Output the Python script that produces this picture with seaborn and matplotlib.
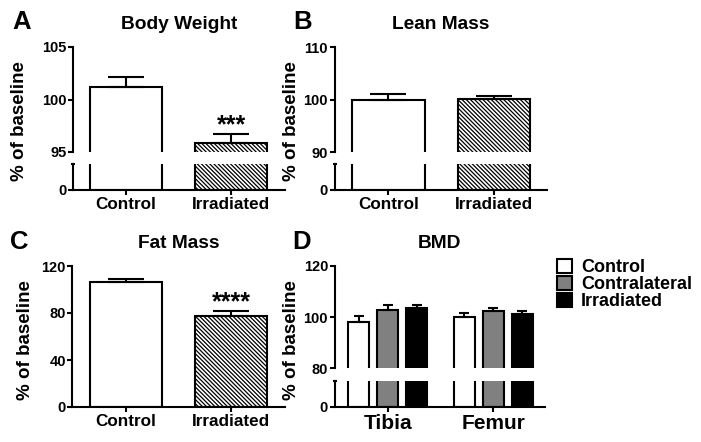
import matplotlib
matplotlib.use("Agg")
import matplotlib.pyplot as plt
import seaborn as sns
import pandas as pd
from matplotlib.patches import Patch

# data (% of baseline, mean and SEM)
groups = ["Control", "Irradiated"]
body_weight = [101.15, 95.9]
body_weight_sem = [0.95, 0.8]
lean_mass = [99.87, 100.13]
lean_mass_sem = [1.1, 0.5]
fat_mass = [106.0, 77.8]
fat_mass_sem = [3.2, 4.2]

bones = ["Tibia", "Femur"]
bmd_groups = ["Control", "Contralateral", "Irradiated"]
bmd_tibia = [98.05, 102.7, 103.5]
bmd_tibia_sem = [2.35, 2.0, 1.2]
bmd_femur = [100.15, 102.3, 101.3]
bmd_femur_sem = [1.45, 1.2, 1.0]

bmd_colors = {"Control": "white", "Contralateral": "#808080", "Irradiated": "black"}
HATCH = "\\" * 8  # dense diagonal stripes
LW = 1.5
W, H = 701, 442

sns.set_style("ticks")
plt.rcParams["font.family"] = ["Liberation Sans", "DejaVu Sans"]
plt.rcParams["font.weight"] = "bold"
plt.rcParams["axes.titleweight"] = "bold"
plt.rcParams["axes.linewidth"] = LW
plt.rcParams["hatch.linewidth"] = 0.9
# plain black everywhere (seaborn defaults to dark grey)
for key in ["text.color", "axes.labelcolor", "axes.edgecolor", "xtick.color", "ytick.color"]:
    plt.rcParams[key] = "black"

fig = plt.figure(figsize=(W / 100, H / 100), dpi=100)


def px(x0, x1, ytop, ybot):
    # pixel box -> figure fraction
    return [x0 / W, 1 - ybot / H, (x1 - x0) / W, (ybot - ytop) / H]


def draw_two(ax, values):
    df = pd.DataFrame({"group": groups, "value": values})
    sns.barplot(data=df, x="group", y="value", hue="group",
                palette={"Control": "white", "Irradiated": "white"},
                width=0.686, edgecolor="black", linewidth=LW, saturation=1,
                legend=False, ax=ax)
    ax.patches[1].set_hatch(HATCH)


def draw_bmd(ax):
    df = pd.DataFrame({
        "bone": [b for b in bones for _ in bmd_groups],
        "group": bmd_groups * len(bones),
        "value": bmd_tibia + bmd_femur,
    })
    sns.barplot(data=df, x="bone", y="value", hue="group", hue_order=bmd_groups,
                palette=bmd_colors, width=0.82, gap=0.27, edgecolor="black",
                linewidth=LW, saturation=1, legend=False, ax=ax)


def add_err(ax, values, sems, capsize):
    lookup = dict(zip(values, sems))
    for p in ax.patches:
        top = p.get_height()
        sem = min(lookup.items(), key=lambda kv: abs(kv[0] - top))[1]
        cx = p.get_x() + p.get_width() / 2
        ax.errorbar(cx, top, yerr=[[0], [sem]], fmt="none", ecolor="black",
                    elinewidth=LW, capsize=capsize, capthick=LW)


def style_common(ax):
    sns.despine(ax=ax)
    ax.set_xlabel("")
    ax.set_ylabel("")
    ax.tick_params(axis="y", direction="out", length=3.6, width=LW, pad=1, labelsize=10.5)
    ax.tick_params(axis="x", direction="out", length=3.6, width=LW, pad=1.5, labelsize=12.3)


def broken_panel(x0, x1, ytop, ybreak, ylow, ybot, top_lim, top_ticks, xlim, draw):
    ax_t = fig.add_axes(px(x0, x1, ytop, ybreak))
    ax_b = fig.add_axes(px(x0, x1, ylow, ybot))
    draw(ax_t)
    draw(ax_b)
    for ax in (ax_t, ax_b):
        style_common(ax)
        ax.set_xlim(*xlim)
    ax_t.spines["bottom"].set_visible(False)
    ax_t.tick_params(axis="x", bottom=False, labelbottom=False)
    ax_t.set_ylim(*top_lim)
    ax_t.set_yticks(top_ticks)
    ax_b.set_ylim(0, 10)
    ax_b.set_yticks([0])
    ax_b.set_yticks([10], minor=True)
    ax_b.tick_params(axis="y", which="minor", direction="inout", length=3.4, width=LW)
    return ax_t, ax_b


# A: body weight
a_t, a_b = broken_panel(73.3, 285, 47, 152, 164, 189.5, (95, 105), [95, 100, 105],
                        (-0.502, 1.514), lambda ax: draw_two(ax, body_weight))
add_err(a_t, body_weight, body_weight_sem, 13)
a_t.set_title("Body Weight", fontsize=13.8, pad=13)
a_t.text(1, body_weight[1] + body_weight_sem[1] + 0.15, "***", ha="center", va="baseline", fontsize=18)

# B: lean mass
b_t, b_b = broken_panel(334.5, 547, 47, 152, 164, 189.5, (90, 110), [90, 100, 110],
                        (-0.512, 1.504), lambda ax: draw_two(ax, lean_mass))
add_err(b_t, lean_mass, lean_mass_sem, 13)
b_t.set_title("Lean Mass", fontsize=13.8, pad=13)

# C: fat mass
c_ax = fig.add_axes(px(72.3, 285, 266, 407))
draw_two(c_ax, fat_mass)
style_common(c_ax)
c_ax.set_xlim(-0.512, 1.514)
c_ax.set_ylim(0, 120)
c_ax.set_yticks([0, 40, 80, 120])
add_err(c_ax, fat_mass, fat_mass_sem, 13)
c_ax.set_title("Fat Mass", fontsize=13.8, pad=13)
c_ax.text(1, fat_mass[1] + fat_mass_sem[1] + 1, "****", ha="center", va="baseline", fontsize=18)

# D: BMD
d_t, d_b = broken_panel(334.5, 545, 266, 368.3, 381, 407, (80, 120), [80, 100, 120],
                        (-0.505, 1.49), draw_bmd)
add_err(d_t, bmd_tibia + bmd_femur, bmd_tibia_sem + bmd_femur_sem, 3.8)
d_b.tick_params(axis="x", labelsize=15)
d_t.set_title("BMD", fontsize=13.8, pad=13)

handles = [Patch(facecolor=bmd_colors[g], edgecolor="black", linewidth=LW, label=g)
           for g in bmd_groups]
fig.legend(handles=handles, loc="upper left", bbox_to_anchor=(557 / W, 1 - 259 / H),
           frameon=False, fontsize=13, handlelength=0.83, handleheight=0.78,
           handletextpad=0.5, labelspacing=0.0, borderpad=0, borderaxespad=0)

# y labels and panel letters
for x, y in [(20, 121), (291, 121), (26, 340), (291, 340)]:
    fig.text(x / W, 1 - y / H, "% of baseline", rotation=90, ha="center", va="center",
             fontsize=13.5)
for letter, x, y in [("A", 12, 29), ("B", 293, 29), ("C", 10, 249), ("D", 292, 249)]:
    fig.text(x / W, 1 - y / H, letter, ha="left", va="baseline", fontsize=18.5)

fig.savefig("out.png", dpi=100)
